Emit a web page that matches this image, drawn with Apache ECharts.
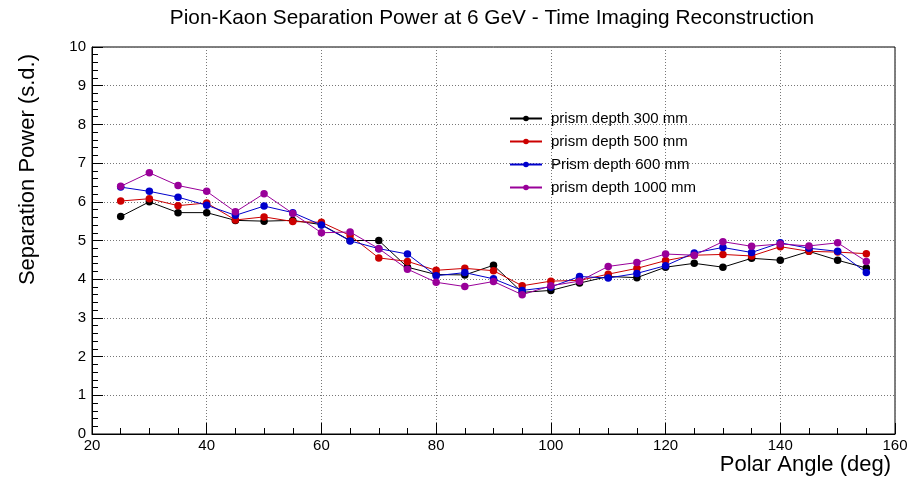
<!DOCTYPE html>
<html>
<head>
<meta charset="utf-8">
<title>Pion-Kaon Separation Power</title>
<script src="https://cdn.jsdelivr.net/npm/echarts@6/dist/echarts.min.js"></script>
<style>
  html, body { margin: 0; padding: 0; background: #fff; }
  #chart { width: 913px; height: 478px; }
</style>
</head>
<body>
<div id="chart"></div>
<script>
// Polar angle (deg) of each measurement
const angles = [25, 30, 35, 40, 45, 50, 55, 60, 65, 70, 75, 80, 85, 90,
                95, 100, 105, 110, 115, 120, 125, 130, 135, 140, 145, 150, 155];

// Separation power (s.d.) per prism depth
const depth300 = [5.62, 6.00, 5.72, 5.72, 5.52, 5.50, 5.52, 5.41, 5.00, 5.00, 4.31, 4.12, 4.11, 4.36,
                  3.66, 3.71, 3.90, 4.07, 4.04, 4.31, 4.41, 4.31, 4.54, 4.49, 4.72, 4.49, 4.29];
const depth500 = [6.02, 6.08, 5.90, 5.97, 5.53, 5.61, 5.49, 5.47, 5.13, 4.55, 4.46, 4.23, 4.28, 4.22,
                  3.83, 3.95, 3.97, 4.13, 4.28, 4.48, 4.62, 4.64, 4.60, 4.84, 4.72, 4.70, 4.66];
const depth600 = [6.38, 6.27, 6.12, 5.91, 5.65, 5.89, 5.72, 5.40, 4.99, 4.79, 4.65, 4.09, 4.17, 4.01,
                  3.71, 3.80, 4.07, 4.03, 4.15, 4.35, 4.68, 4.82, 4.69, 4.94, 4.80, 4.72, 4.17];
const depth1000 = [6.40, 6.75, 6.42, 6.27, 5.74, 6.21, 5.70, 5.20, 5.22, 4.79, 4.26, 3.92, 3.81, 3.94,
                   3.60, 3.83, 3.95, 4.33, 4.43, 4.65, 4.62, 4.97, 4.85, 4.91, 4.86, 4.94, 4.46];

const seriesNames = ['prism depth 300 mm', 'prism depth 500 mm', 'Prism depth 600 mm', 'prism depth 1000 mm'];
const seriesColors = ['#000000', '#cc0000', '#0000cc', '#990099'];
const seriesValues = [depth300, depth500, depth600, depth1000];

const FONT = '"Liberation Sans", Arial, Helvetica, sans-serif';

const chart = echarts.init(document.getElementById('chart'), null, { renderer: 'canvas' });

const series = seriesValues.map((vals, i) => ({
  name: seriesNames[i],
  type: 'line',
  data: angles.map((a, k) => [a, vals[k]]),
  symbol: 'circle',
  symbolSize: 7.5,
  showSymbol: true,
  color: seriesColors[i],
  lineStyle: { width: 1, color: seriesColors[i] },
  itemStyle: { color: seriesColors[i] },
  emphasis: { disabled: true },
  animation: false,
  z: 2 + i
}));

const option = {
  animation: false,
  backgroundColor: '#ffffff',
  textStyle: { fontFamily: FONT },
  legend: {
    orient: 'vertical',
    left: 504,
    top: 106,
    itemWidth: 32,
    itemHeight: 7,
    itemGap: 8,
    data: seriesNames,
    textStyle: { fontFamily: FONT, fontSize: 15, color: '#000', padding: [0, 0, 0, 4] }
  },
  grid: {
    left: 92,
    right: 18,
    top: 47,
    bottom: 44,
    show: true,
    borderColor: '#000',
    borderWidth: 1,
    backgroundColor: 'transparent',
    containLabel: false,
    outerBoundsMode: 'none'
  },
  graphic: [
    {
      // plot title, centred over the frame
      type: 'text',
      x: 492,
      y: 8,
      style: {
        text: 'Pion-Kaon Separation Power at 6 GeV - Time Imaging Reconstruction',
        font: '20.8px ' + FONT,
        fill: '#000',
        align: 'center',
        verticalAlign: 'top'
      }
    },
    {
      type: 'text',
      x: 891,
      y: 454,
      style: {
        text: 'Polar Angle (deg)',
        font: '22px ' + FONT,
        fill: '#000',
        align: 'right',
        verticalAlign: 'top'
      }
    },
    {
      type: 'text',
      x: 17,
      y: 54,
      rotation: Math.PI / 2,
      style: {
        text: 'Separation Power (s.d.)',
        font: '22px ' + FONT,
        fill: '#000',
        align: 'right',
        verticalAlign: 'top'
      }
    }
  ],
  xAxis: {
    type: 'value',
    min: 20,
    max: 160,
    interval: 20,
    axisLine: { show: true, lineStyle: { color: '#000', width: 1 } },
    axisTick: { show: true, inside: true, length: 11, lineStyle: { color: '#000' } },
    minorTick: { show: true, splitNumber: 4, length: 6, lineStyle: { color: '#000' } },
    axisLabel: { fontFamily: FONT, fontSize: 15, color: '#000', margin: 4 },
    splitLine: { show: true, lineStyle: { color: '#777', type: [1, 2], width: 1 } }
  },
  yAxis: {
    type: 'value',
    min: 0,
    max: 10,
    interval: 1,
    axisLine: { show: true, lineStyle: { color: '#000', width: 1 } },
    axisTick: { show: true, inside: true, length: 11, lineStyle: { color: '#000' } },
    minorTick: { show: true, splitNumber: 5, length: 6, lineStyle: { color: '#000' } },
    axisLabel: { fontFamily: FONT, fontSize: 15, color: '#000', margin: 6 },
    splitLine: { show: true, lineStyle: { color: '#777', type: [1, 2], width: 1 } }
  },
  series: series
};

chart.setOption(option);
</script>
</body>
</html>
